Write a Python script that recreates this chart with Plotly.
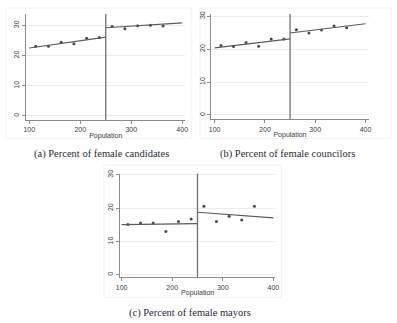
import plotly.graph_objects as go

# ---- data ----
bins = [112.5, 137.5, 162.5, 187.5, 212.5, 237.5, 262.5, 287.5, 312.5, 337.5, 362.5]
candidates = [23.1, 23.1, 24.4, 23.9, 25.7, 26.0, 29.6, 28.9, 29.9, 30.0, 29.8]
councilors = [21.1, 20.8, 22.0, 20.9, 23.1, 23.1, 25.9, 24.9, 25.8, 27.0, 26.5]
mayors = [15.1, 15.6, 15.6, 13.0, 16.0, 16.8, 20.6, 16.0, 17.6, 16.5, 20.6]

fit_x_left = [100, 250]
fit_x_right = [250, 400]
cand_fit_left = [22.5, 26.1]
cand_fit_right = [29.2, 30.8]
coun_fit_left = [20.4, 23.1]
coun_fit_right = [24.9, 27.7]
mayor_fit_left = [15.1, 15.4]
mayor_fit_right = [18.8, 17.1]

cutoff = 250
x_ticks = [100, 200, 300, 400]
y_ticks = [0, 10, 20, 30]
captions = ["(a) Percent of female candidates",
            "(b) Percent of female councilors",
            "(c) Percent of female mayors"]

W, H = 397, 323

def px(x):
    return x / W

def py(y):
    return 1 - y / H

panels = [
    dict(points=candidates, fl=cand_fit_left, fr=cand_fit_right,
         xd=[px(22.7), px(185)], yd=[py(117.3), py(10)], yr=[-1.3, 33.8], xr=[94, 406],
         cap=(100, 151.5), frame=(2, 4, 191, 136)),
    dict(points=councilors, fl=coun_fit_left, fr=coun_fit_right,
         xd=[px(211.7), px(372)], yd=[py(116.7), py(10)], yr=[-1.3, 30.7], xr=[93.6, 406],
         cap=(289.3, 151.5), frame=(200, 4, 395, 136)),
    dict(points=mayors, fl=mayor_fit_left, fr=mayor_fit_right,
         xd=[px(118.3), px(277)], yd=[py(276.7), py(171.7)], yr=[-0.7, 30.4], xr=[96.7, 404],
         cap=(190, 312.7), frame=(102, 163, 283, 297)),
]

fig = go.Figure()
line_col = "#5a5a5a"
axis_col = "#8a8a8a"
text_col = "#3a3a3a"
shapes = []
annotations = []

for i, p in enumerate(panels):
    n = "" if i == 0 else str(i + 1)
    xa, ya = "x" + n, "y" + n
    fig.add_trace(go.Scatter(x=bins, y=p["points"], mode="markers", xaxis=xa, yaxis=ya,
                             marker=dict(size=3, color="#4a4a4a"), showlegend=False))
    fig.add_trace(go.Scatter(x=fit_x_left, y=p["fl"], mode="lines", xaxis=xa, yaxis=ya,
                             line=dict(color=line_col, width=1.2), showlegend=False))
    fig.add_trace(go.Scatter(x=fit_x_right, y=p["fr"], mode="lines", xaxis=xa, yaxis=ya,
                             line=dict(color=line_col, width=1.2), showlegend=False))
    fig.update_layout(**{
        "xaxis" + n: dict(domain=p["xd"], range=p["xr"], tickvals=x_ticks, showgrid=False,
                          zeroline=False, showline=True, linecolor=axis_col, linewidth=1,
                          ticks="outside", ticklen=3, tickcolor=axis_col,
                          tickfont=dict(size=7, color=text_col, family="Liberation Sans"),
                          title=dict(text="Population", standoff=0,
                                     font=dict(size=7, color=text_col, family="Liberation Sans")),
                          anchor=ya),
        "yaxis" + n: dict(domain=p["yd"], range=p["yr"], tickvals=y_ticks, showgrid=True,
                          gridcolor="#ececec", gridwidth=1,
                          zeroline=False, showline=True, linecolor=axis_col, linewidth=1,
                          ticks="outside", ticklen=3, tickcolor=axis_col, tickangle=-90,
                          tickfont=dict(size=7, color=text_col, family="Liberation Sans"),
                          anchor=xa),
    })
    shapes.append(dict(type="line", xref=xa, yref=ya + " domain", x0=cutoff, x1=cutoff,
                       y0=0, y1=1, line=dict(color="#707070", width=1.3)))
    fx0, fy0, fx1, fy1 = p["frame"]
    shapes.append(dict(type="rect", xref="paper", yref="paper", x0=px(fx0), x1=px(fx1),
                       y0=py(fy1), y1=py(fy0), line=dict(color="#f0f0f0", width=1),
                       layer="below"))
    cx, cy = p["cap"]
    annotations.append(dict(text=captions[i], xref="paper", yref="paper", x=px(cx), y=py(cy),
                            xanchor="center", yanchor="middle", showarrow=False,
                            font=dict(size=10.5, color="#2a2a3a", family="Liberation Serif")))

fig.update_layout(width=W, height=H, margin=dict(l=0, r=0, t=0, b=0),
                  paper_bgcolor="white", plot_bgcolor="white",
                  shapes=shapes, annotations=annotations)

fig.write_html("out.html")
